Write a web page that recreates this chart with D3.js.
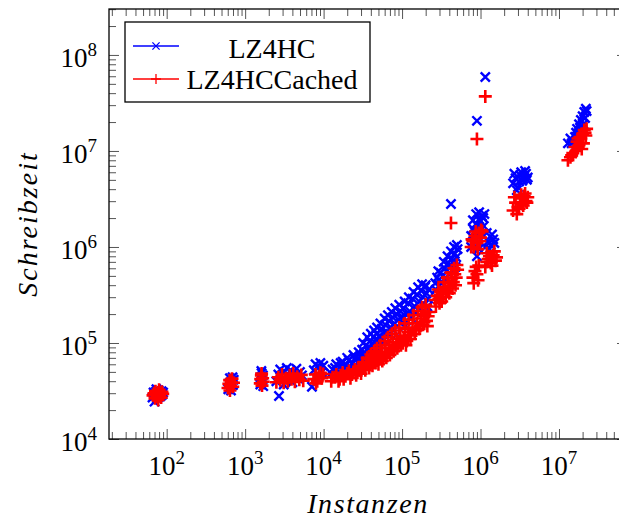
<!DOCTYPE html>
<html lang="de">
<head>
<meta charset="UTF-8">
<title>Schreibzeit LZ4HC</title>
<script src="https://d3js.org/d3.v7.min.js"></script>
<style>
  body { margin: 0; padding: 0; background: #ffffff; }
  svg { display: block; font-family: "Liberation Serif", "DejaVu Serif", serif; }
</style>
</head>
<body>
<div id="chart"></div>
<script>
// Instanzen / Schreibzeit pairs per compressor
const lz4hc = [
  [66,27000],[68,30500],[70,24500],[71,28500],[73,31000],[75,26500],[77,29500],[79,32000],[80,27500],[82,30000],[84,28000],[86,31500],[88,29000],[90,30500],[74,33000],
  [610,33000],[625,38000],[640,43000],[655,35500],[670,40000],[690,44000],[700,36500],[715,41500],[660,32000],
  [1560,37000],[1590,44000],[1620,48500],[1650,40000],[1680,46000],[1700,35500],[1610,51000],
  [2500,40000],[2650,47000],[2800,53000],[2700,28000],[3000,42000],[3200,50000],[3400,55000],[3600,44000],[3800,52000],[4000,39000],[4200,48000],[4500,54000],[4700,43000],[5000,50000],[5300,46000],[3100,37000],
  [7500,52000],[7900,60000],[8300,47000],[8700,56000],[9100,62000],[9500,50000],[9900,58000],[7100,35000],
  [13000,53000],[14500,60000],[16000,56000],[17500,64000],[19000,58000],[21000,66000],[23000,61000],[25000,69000],[27000,63000],[15500,50000],
  [12500,48000],[14000,55000],[16500,62000],[18000,52000],[20000,70000],[22000,56000],[24000,75000],[26000,58000],[28000,80000],
  [29000,72000],[31000,85000],[33000,78000],[35000,95000],[37000,88000],[39000,105000],[41000,98000],[43000,115000],[45000,92000],[47000,125000],[49000,108000],
  [30000,65000],[32000,100000],[34000,72000],[36000,115000],[38000,80000],[40000,125000],[42000,85000],[44000,135000],[46000,100000],[48000,145000],
  [52000,120000],[55000,140000],[58000,110000],[61000,155000],[64000,130000],[68000,170000],[72000,145000],[76000,185000],[80000,160000],[85000,200000],[90000,175000],[95000,215000],[99000,190000],
  [50000,95000],[53000,160000],[56000,105000],[60000,180000],[63000,115000],[66000,195000],[70000,125000],[74000,210000],[78000,135000],[82000,230000],[87000,150000],[92000,250000],[97000,160000],
  [105000,230000],[112000,170000],[120000,260000],[128000,210000],[136000,290000],[145000,240000],[155000,320000],[165000,270000],[175000,350000],[185000,300000],[195000,380000],[205000,330000],[215000,290000],[110000,150000],
  [102000,180000],[108000,270000],[115000,200000],[122000,300000],[130000,185000],[140000,340000],[150000,210000],[160000,380000],[170000,230000],[180000,410000],[190000,250000],[200000,400000],[210000,240000],[220000,360000],
  [265000,420000],[280000,480000],[295000,450000],[310000,540000],[330000,500000],[350000,600000],[370000,560000],[390000,680000],[410000,630000],[430000,760000],[450000,700000],[470000,850000],[490000,780000],[510000,950000],[300000,400000],
  [270000,360000],[290000,560000],[320000,420000],[340000,700000],[360000,480000],[380000,800000],[400000,520000],[420000,900000],[440000,580000],[460000,1000000],[480000,620000],[500000,1050000],
  [420000,2800000],
  [760000,1300000],[800000,1550000],[840000,1450000],[880000,1750000],[920000,1650000],[960000,1950000],[1000000,1850000],[1040000,2100000],[1080000,2000000],[1120000,2200000],
  [760000,1000000],[800000,1900000],[840000,1200000],[880000,2200000],[920000,1300000],[960000,2300000],[1000000,1500000],[1040000,1350000],[1100000,1650000],[1200000,1400000],[1400000,1350000],[1500000,1100000],
  [900000,800000],[950000,950000],[1150000,1000000],[1250000,1150000],[1350000,1050000],[1450000,1200000],[1300000,950000],
  [900000,20600000],[1150000,59000000],
  [2600000,4600000],[2800000,5200000],[3000000,4200000],[3200000,5600000],[3400000,4900000],[3600000,5500000],[3800000,5800000],[4000000,5300000],[2900000,3900000],
  [2700000,5800000],[3100000,4800000],[3300000,6000000],[3500000,5100000],[3700000,6200000],[3900000,5000000],
  [13000000,12000000],[14000000,13500000],[15000000,12500000],[16000000,14000000],[17000000,17000000],[18000000,19000000],[19000000,21000000],[20000000,23000000],[21000000,25500000],[22000000,27500000],[19500000,16500000],[20500000,19000000],
  [14500000,12000000],[16500000,15500000],[17500000,15000000],[18500000,17500000],[21500000,22000000],[22500000,26000000]
];

const lz4hcCached = [
  [67,28500],[69,30000],[71,26500],[72,31500],[74,29000],[76,27500],[78,30500],[80,32500],[81,28000],[83,30000],[85,27000],[87,31000],[89,29500],[78,25500],
  [605,34000],[620,37500],[635,41000],[650,36000],[665,39000],[680,42500],[695,35000],[710,38500],[640,32000],
  [1560,38000],[1580,42000],[1610,46000],[1640,36000],[1670,43000],[1700,39500],[1620,48000],
  [2500,39000],[2650,44000],[2800,41000],[2950,47000],[3100,38500],[3300,43000],[3500,40000],[3700,46000],[3900,42000],[4100,48000],[4300,39500],[4600,44500],[4900,41500],[5200,46500],[5500,40500],
  [7500,42000],[7900,47000],[8300,40000],[8700,45000],[9100,49000],[9500,43000],[9900,47500],[8000,38000],
  [13000,44000],[14500,47000],[16000,42000],[17500,49000],[19000,45000],[21000,51000],[23000,47000],[25000,53000],[27000,49000],[15500,40000],
  [12500,40000],[14000,44000],[16500,46000],[18000,42000],[20000,48000],[22000,43000],[24000,50000],[26000,46000],[28000,56000],
  [29000,52000],[31000,58000],[33000,55000],[35000,63000],[37000,60000],[39000,68000],[41000,64000],[43000,72000],[45000,67000],[47000,78000],[49000,70000],
  [30000,48000],[32000,62000],[34000,52000],[36000,70000],[38000,55000],[40000,76000],[42000,58000],[44000,82000],[46000,62000],[48000,88000],
  [52000,68000],[55000,80000],[58000,72000],[61000,88000],[64000,78000],[68000,95000],[72000,85000],[76000,102000],[80000,90000],[85000,110000],[90000,98000],[95000,118000],[99000,105000],
  [50000,60000],[53000,95000],[56000,65000],[60000,105000],[63000,70000],[66000,115000],[70000,75000],[74000,125000],[78000,82000],[82000,135000],[87000,88000],[92000,145000],[97000,95000],
  [105000,115000],[112000,95000],[120000,130000],[128000,110000],[136000,145000],[145000,125000],[155000,160000],[165000,140000],[175000,180000],[185000,155000],[195000,200000],[205000,170000],[215000,190000],[110000,140000],
  [102000,100000],[108000,160000],[115000,105000],[122000,175000],[130000,120000],[140000,195000],[150000,135000],[160000,215000],[170000,150000],[180000,235000],[190000,165000],[200000,250000],[210000,150000],[220000,210000],
  [265000,280000],[280000,310000],[295000,290000],[310000,340000],[330000,320000],[350000,380000],[370000,350000],[390000,420000],[410000,390000],[430000,470000],[450000,430000],[470000,520000],[490000,480000],[510000,580000],[300000,260000],
  [270000,240000],[290000,360000],[320000,270000],[340000,430000],[360000,300000],[380000,480000],[400000,330000],[420000,540000],[440000,370000],[460000,600000],[480000,400000],[500000,650000],
  [420000,1780000],
  [760000,1000000],[800000,1150000],[850000,1300000],[900000,1100000],[950000,1400000],[1000000,1250000],[1050000,1450000],
  [780000,1200000],[820000,1000000],[870000,1450000],[920000,950000],[980000,1150000],[1020000,1500000],
  [800000,480000],[850000,560000],[900000,520000],[950000,640000],[1150000,620000],[1250000,750000],[1350000,680000],[1450000,820000],[1550000,720000],[1200000,860000],
  [820000,420000],[880000,620000],[930000,450000],[1200000,700000],[1300000,800000],[1400000,640000],[1500000,900000],[1600000,780000],
  [900000,13300000],[1150000,37000000],
  [2600000,2400000],[2800000,2900000],[3000000,2600000],[3200000,3200000],[3400000,2800000],[3600000,3400000],[3800000,3000000],[4000000,3300000],[2900000,2200000],
  [2700000,3300000],[3100000,2500000],[3300000,3500000],[3500000,2700000],[3700000,3600000],[3900000,2900000],
  [13000000,8000000],[14000000,8600000],[15000000,9500000],[16000000,11000000],[17000000,12500000],[18000000,11500000],[19000000,13500000],[20000000,15000000],[21000000,16500000],[22000000,14500000],[20500000,12000000],[19500000,10500000],
  [14500000,9000000],[16500000,10000000],[17500000,13500000],[18500000,14000000],[21500000,15500000],[22500000,17000000]
];

const xTicks = [1e2, 1e3, 1e4, 1e5, 1e6, 1e7];
const yTicks = [1e4, 1e5, 1e6, 1e7, 1e8];
const seriesNames = ["LZ4HC", "LZ4HCCached"];

const width = 619, height = 519;
const plotLeft = 109, plotRight = 627, plotTop = 9, plotBottom = 439;

const x = d3.scaleLog().domain([18.4, 7.36e7]).range([plotLeft, plotRight]);
const y = d3.scaleLog().domain([1e4, 3.01e8]).range([plotBottom, plotTop]);

// minor ticks 2..9 in each decade
function minors(scale) {
  const [a, b] = scale.domain();
  const out = [];
  for (let e = Math.floor(Math.log10(a)); e <= Math.ceil(Math.log10(b)); e++) {
    for (let m = 2; m <= 9; m++) {
      const v = m * Math.pow(10, e);
      if (v > a && v < b) out.push(v);
    }
  }
  return out;
}

const svg = d3.select("#chart").append("svg")
  .attr("width", width)
  .attr("height", height);

// tick marks on all four sides, pointing inward
function drawTicks(axisFn, scale, values, size, transform) {
  const g = svg.append("g")
    .attr("transform", transform)
    .call(axisFn(scale).tickValues(values).tickSize(-size).tickSizeOuter(0).tickFormat(""));
  g.select(".domain").remove();
  g.selectAll(".tick line").attr("stroke", "#555").attr("stroke-width", 1);
}
drawTicks(d3.axisBottom, x, minors(x), 7, `translate(0,${plotBottom})`);
drawTicks(d3.axisBottom, x, xTicks, 10, `translate(0,${plotBottom})`);
drawTicks(d3.axisTop, x, minors(x), 7, `translate(0,${plotTop})`);
drawTicks(d3.axisTop, x, xTicks, 10, `translate(0,${plotTop})`);
drawTicks(d3.axisLeft, y, minors(y), 7, `translate(${plotLeft},0)`);
drawTicks(d3.axisLeft, y, yTicks, 10, `translate(${plotLeft},0)`);
drawTicks(d3.axisRight, y, minors(y), 7, `translate(${plotRight},0)`);
drawTicks(d3.axisRight, y, yTicks, 10, `translate(${plotRight},0)`);

// tick labels as 10^n
function powerLabel(sel, v) {
  sel.append("tspan").text("10");
  sel.append("tspan").attr("font-size", 19).attr("dy", -11).text(Math.round(Math.log10(v)));
}
xTicks.forEach(v => {
  svg.append("text")
    .attr("x", x(v)).attr("y", 475)
    .attr("text-anchor", "middle")
    .attr("font-size", 27)
    .call(powerLabel, v);
});
yTicks.forEach(v => {
  svg.append("text")
    .attr("x", 97).attr("y", y(v) + 12)
    .attr("text-anchor", "end")
    .attr("font-size", 27)
    .call(powerLabel, v);
});

// scatter marks: x for LZ4HC, + for the cached variant (drawn on top)
const crossPath = s => `M${-s},${-s}L${s},${s}M${-s},${s}L${s},${-s}`;
const plusPath = s => `M${-s},0L${s},0M0,${-s}L0,${s}`;

const plot = svg.append("g");
plot.selectAll("path.lz4hc")
  .data(lz4hc)
  .join("path")
  .attr("class", "lz4hc")
  .attr("transform", d => `translate(${x(d[0])},${y(d[1])})`)
  .attr("d", crossPath(4.6))
  .attr("stroke", "#0000ff")
  .attr("stroke-width", 2.4)
  .attr("fill", "none");

plot.selectAll("path.cached")
  .data(lz4hcCached)
  .join("path")
  .attr("class", "cached")
  .attr("transform", d => `translate(${x(d[0])},${y(d[1])})`)
  .attr("d", plusPath(6.5))
  .attr("stroke", "#ff0000")
  .attr("stroke-width", 2.6)
  .attr("fill", "none");

// frame
svg.append("rect")
  .attr("x", plotLeft).attr("y", plotTop)
  .attr("width", plotRight - plotLeft).attr("height", plotBottom - plotTop)
  .attr("fill", "none")
  .attr("stroke", "#000")
  .attr("stroke-width", 1.3);

// legend
const legend = svg.append("g");
legend.append("rect")
  .attr("x", 125).attr("y", 22)
  .attr("width", 245).attr("height", 80)
  .attr("fill", "#fff")
  .attr("stroke", "#000")
  .attr("stroke-width", 1.3);

const legendRows = [
  { name: seriesNames[0], color: "#0000ff", mark: crossPath(3.6), ly: 46, ty: 58 },
  { name: seriesNames[1], color: "#ff0000", mark: plusPath(5), ly: 79, ty: 88.5 }
];
legendRows.forEach(r => {
  legend.append("line")
    .attr("x1", 133).attr("x2", 179)
    .attr("y1", r.ly).attr("y2", r.ly)
    .attr("stroke", r.color).attr("stroke-width", 1.3);
  legend.append("path")
    .attr("transform", `translate(156,${r.ly})`)
    .attr("d", r.mark)
    .attr("stroke", r.color).attr("stroke-width", 1.3)
    .attr("fill", "none");
  legend.append("text")
    .attr("x", 272).attr("y", r.ty)
    .attr("text-anchor", "middle")
    .attr("font-size", 28)
    .text(r.name);
});

// axis titles
svg.append("text")
  .attr("x", (plotLeft + plotRight) / 2).attr("y", 513)
  .attr("text-anchor", "middle")
  .attr("font-size", 28)
  .attr("font-style", "italic")
  .attr("letter-spacing", 1.6)
  .text("Instanzen");

svg.append("text")
  .attr("transform", `translate(37,${(plotTop + plotBottom) / 2}) rotate(-90)`)
  .attr("text-anchor", "middle")
  .attr("font-size", 28)
  .attr("font-style", "italic")
  .attr("letter-spacing", 2)
  .text("Schreibzeit");
</script>
</body>
</html>
